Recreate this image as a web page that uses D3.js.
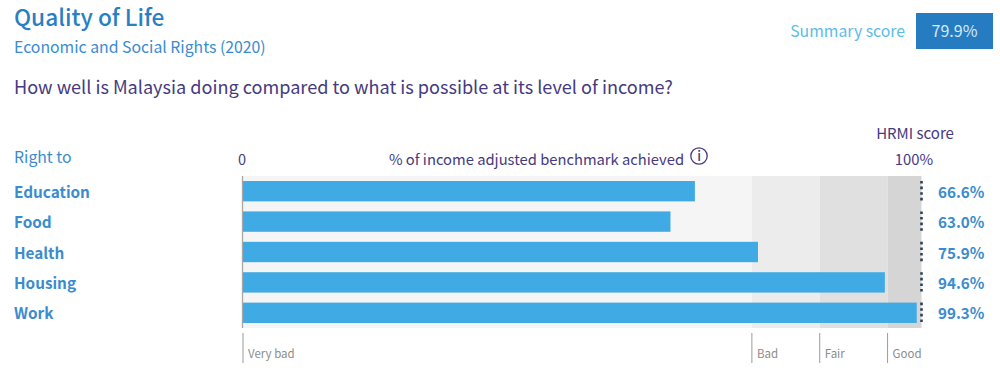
<!DOCTYPE html>
<html>
<head>
<meta charset="utf-8">
<script src="https://cdn.jsdelivr.net/npm/d3@7"></script>
<style>
html, body { margin: 0; padding: 0; background: #fff; }
svg { display: block; }
text { font-family: "Noto Sans CJK SC", "Noto Sans", sans-serif; }
</style>
</head>
<body>
<svg id="chart"></svg>
<script>
const rights = ["Education", "Food", "Health", "Housing", "Work"];
const scores = [66.6, 63.0, 75.9, 94.6, 99.3];
const zoneNames = ["Very bad", "Bad", "Fair", "Good"];
const zoneStarts = [0, 75, 85, 95];
const zoneEnds = [75, 85, 95, 100];
const zoneColors = ["#f5f5f5", "#ececec", "#e0e0e0", "#d5d5d5"];
const summaryScore = "79.9%";

const purple = "#453a80", blue = "#3a8cce", darkBlue = "#2a7fc4", lightBlue = "#5bbce8";

const svg = d3.select("#chart").attr("width", 1000).attr("height", 372);

const x = d3.scaleLinear().domain([0, 100]).range([243, 921.5]);
const y = d3.scaleBand().domain(rights).range([176, 328]).paddingInner(0.33).paddingOuter(0.165);

function label(txt, px, py, size, color, weight, anchor) {
    return svg.append("text")
        .attr("x", px).attr("y", py)
        .attr("font-size", size)
        .attr("font-weight", weight || 400)
        .attr("text-anchor", anchor || "start")
        .attr("fill", color)
        .text(txt);
}

// header
label("Quality of Life", 14, 26, 22.7, darkBlue, 500);
label("Economic and Social Rights (2020)", 14, 53, 15.8, blue);
label("How well is Malaysia doing compared to what is possible at its level of income?", 14, 93.5, 18.1, purple);

label("Summary score", 905, 37, 15.8, lightBlue, 400, "end");
svg.append("rect").attr("x", 916).attr("y", 13).attr("width", 77).attr("height", 36).attr("fill", "#267cc1");
label(summaryScore, 954.5, 37, 16, "#d6e8f5", 400, "middle");

// column headings
label("Right to", 14, 163, 15.8, blue);
label("0", x(0) - 1, 165, 14.5, purple, 400, "middle");
label("% of income adjusted benchmark achieved", 536.5, 165, 14.75, purple, 400, "middle");
label("HRMI score", 915, 139, 15, purple, 400, "middle");
label("100%", 914, 165, 14.8, purple, 400, "middle");

// info icon
svg.append("circle").attr("cx", 699).attr("cy", 156).attr("r", 8.2)
    .attr("fill", "none").attr("stroke", purple).attr("stroke-width", 1.3);
label("i", 699, 161, 13, purple, 500, "middle");

// zone backgrounds
svg.append("g").selectAll("rect")
    .data(zoneStarts)
    .enter().append("rect")
    .attr("x", d => x(d))
    .attr("y", 176)
    .attr("width", (d, i) => x(zoneEnds[i]) - x(d))
    .attr("height", 152)
    .attr("fill", (d, i) => zoneColors[i]);

// bars
svg.append("g").selectAll("rect")
    .data(rights)
    .enter().append("rect")
    .attr("x", x(0))
    .attr("y", d => y(d))
    .attr("width", (d, i) => x(scores[i]) - x(0))
    .attr("height", y.bandwidth())
    .attr("fill", "#3faae4");

// dotted 100% markers
svg.append("g").selectAll("line")
    .data(rights)
    .enter().append("line")
    .attr("x1", x(100)).attr("x2", x(100))
    .attr("y1", d => y(d))
    .attr("y2", d => y(d) + y.bandwidth())
    .attr("stroke", "#2f3f50")
    .attr("stroke-width", 2.6)
    .attr("stroke-dasharray", "2.6 3");

// axis line at zero
svg.append("line")
    .attr("x1", x(0) - 0.5).attr("x2", x(0) - 0.5)
    .attr("y1", 176).attr("y2", 328)
    .attr("stroke", "#a6a6a6").attr("stroke-width", 1.3);

// row labels and values
rights.forEach((r, i) => {
    const cy = y(r) + y.bandwidth() / 2 + 6.5;
    label(r, 14, cy, 15.3, blue, 700);
    label(scores[i].toFixed(1) + "%", 938, cy, 15.2, blue, 700);
});

// zone ticks and names
zoneStarts.forEach((s, i) => {
    svg.append("line")
        .attr("x1", x(s)).attr("x2", x(s))
        .attr("y1", 333).attr("y2", 363)
        .attr("stroke", "#9a9a9a").attr("stroke-width", 1);
    label(zoneNames[i], x(s) + 5, 358, 11.5, "#8c8c8c");
});
</script>
</body>
</html>
